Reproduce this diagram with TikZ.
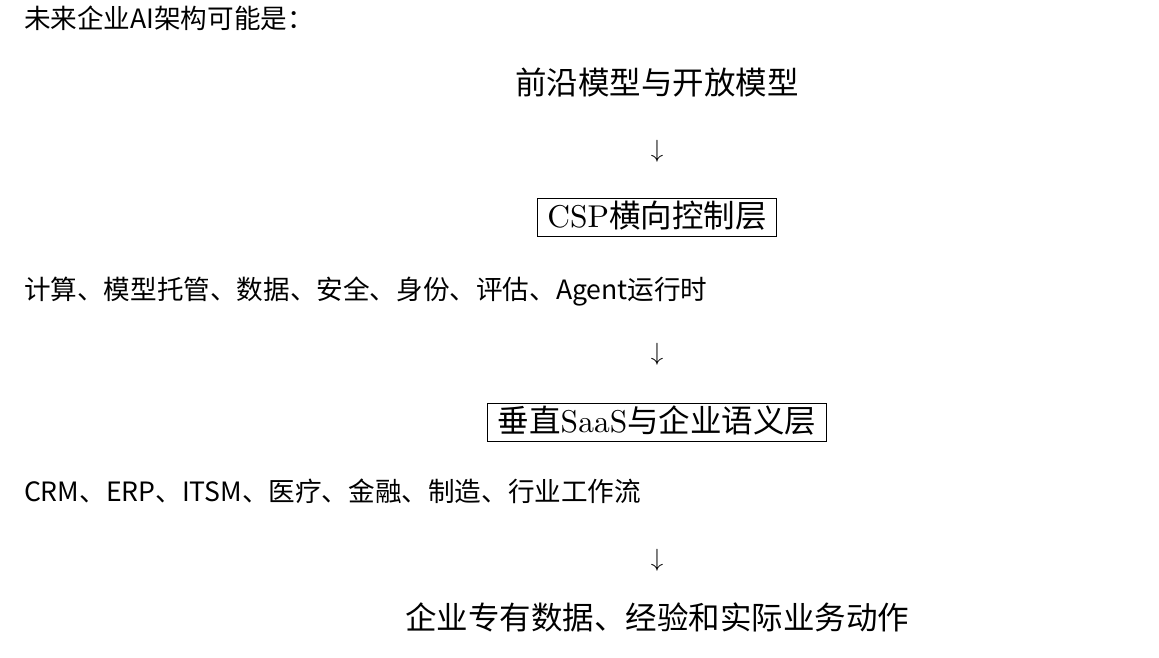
\documentclass[tikz,border=0pt]{standalone}
\usepackage{fontspec}
\newfontfamily\cjk{Noto Sans CJK SC}
\newfontfamily\lmten{lmroman10-regular.otf}
\tikzset{
  plain/.style={inner sep=0pt, outer sep=0pt},
  sanslabel/.style={plain, anchor=base west, font=\cjk\fontsize{26.6}{31}\selectfont},
  serifline/.style={plain, anchor=base, font=\fontsize{31.5}{36}\selectfont},
  layerbox/.style={draw, line width=0.9pt, anchor=base, inner xsep=10pt, inner ysep=0pt, text height=29pt, text depth=9.5pt, font=\lmten\fontsize{31.5}{36}\selectfont},
  darrow/.style={plain, anchor=base, font=\fontsize{31.5}{36}\selectfont},
}
\begin{document}
\begin{tikzpicture}[x=1pt,y=-1pt]
\useasboundingbox[fill=white] (0,0) rectangle (1159,657);
\node[sanslabel] (title) at (24,28) {未来企业AI架构可能是：};
\node[serifline] (models) at (657,94) {\cjk 前沿模型与开放模型};
\node[darrow] (a1) at (657,157) {$\downarrow$};
\node[layerbox] (csp) at (657,227) {CSP{\cjk 横向控制层}};
\node[sanslabel] (csplist) at (24,299) {计算、模型托管、数据、安全、身份、评估、Agent运行时};
\node[darrow] (a2) at (657,360) {$\downarrow$};
\node[layerbox] (saas) at (657,432) {{\cjk 垂直}SaaS{\cjk 与企业语义层}};
\node[sanslabel] (saaslist) at (24,501) {CRM、ERP、ITSM、医疗、金融、制造、行业工作流};
\node[darrow] (a3) at (657,566) {$\downarrow$};
\node[serifline] (data) at (657,629) {\cjk 企业专有数据、经验和实际业务动作};
\end{tikzpicture}
\end{document}
